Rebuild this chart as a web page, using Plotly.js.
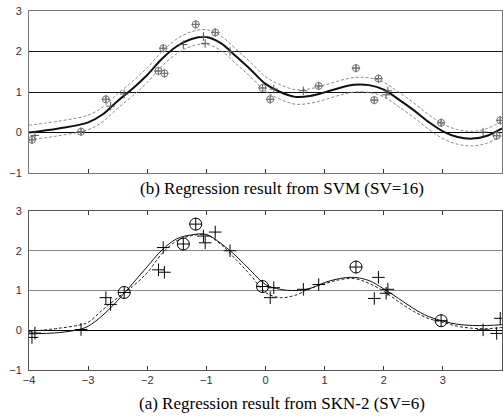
<!DOCTYPE html>
<html>
<head>
<meta charset="utf-8">
<script src="https://cdn.plot.ly/plotly-3.0.1.min.js"></script>
<style>html,body{margin:0;padding:0;background:#fff}#chart{width:503px;height:417px}</style>
</head>
<body>
<div id="chart"></div>
<script>
// training samples (shared by both panels)
const dataX = [-3.95,-3.9,-3.12,-2.7,-2.62,-2.39,-1.73,-1.81,-1.71,-1.39,-1.18,-1.05,-1.02,-0.85,-0.6,-0.05,0.14,0.08,0.64,0.9,1.53,1.91,1.84,2.04,2.07,2.97,3.68,3.91,3.97];
const dataY = [-0.18,-0.07,0.02,0.82,0.65,0.95,2.08,1.52,1.46,2.17,2.67,2.37,2.2,2.47,2.0,1.1,1.07,0.82,1.03,1.15,1.59,1.33,0.8,0.93,1.03,0.24,0.01,-0.08,0.3];
// support vectors (indices into the samples)
const svmSV = [0,2,3,6,7,8,10,13,15,17,19,20,21,22,25,27,28];
const sknSV = [5,9,10,15,20,25];

// (b) SVM regression curve and epsilon tube
const svmX = [-4,-3.5,-3,-2.75,-2.5,-2.25,-2,-1.75,-1.5,-1.25,-1,-0.75,-0.5,-0.25,0,0.25,0.5,0.75,1,1.25,1.5,1.75,2,2.25,2.5,2.75,3,3.25,3.5,3.75,4];
const svmY = [0.0,0.1,0.25,0.45,0.78,1.08,1.42,1.82,2.13,2.31,2.36,2.2,1.88,1.55,1.2,1.0,0.88,0.9,0.99,1.1,1.18,1.17,1.06,0.82,0.56,0.27,0.03,-0.11,-0.15,-0.08,0.1];
const svmUpper = [0.18,0.28,0.43,0.63,0.96,1.26,1.6,2.0,2.31,2.49,2.54,2.38,2.06,1.73,1.38,1.18,1.06,1.08,1.17,1.28,1.36,1.35,1.24,1.0,0.74,0.45,0.21,0.07,0.03,0.1,0.28];
const svmLower = [-0.18,-0.08,0.07,0.27,0.6,0.9,1.24,1.64,1.95,2.13,2.18,2.02,1.7,1.37,1.02,0.82,0.7,0.72,0.81,0.92,1.0,0.99,0.88,0.64,0.38,0.09,-0.15,-0.29,-0.33,-0.26,-0.08];

// (a) SKN-2 regression (solid) and reference (dashed)
const sknX = [-4,-3.5,-3.15,-3,-2.75,-2.5,-2.25,-2,-1.75,-1.5,-1.25,-1,-0.75,-0.5,-0.25,0,0.25,0.5,0.75,1,1.25,1.5,1.75,2,2.25,2.5,2.75,3,3.25,3.5,3.75,4];
const sknY = [-0.09,-0.06,0.02,0.1,0.38,0.75,1.17,1.6,2.02,2.3,2.4,2.41,2.18,1.87,1.5,1.15,1.03,1.0,1.05,1.2,1.3,1.33,1.25,1.04,0.8,0.55,0.35,0.23,0.15,0.12,0.12,0.14];
const refY = [-0.03,0.05,0.13,0.2,0.52,0.82,1.1,1.45,1.93,2.25,2.38,2.4,2.15,1.78,1.38,0.95,0.82,0.88,1.05,1.17,1.27,1.3,1.18,0.98,0.72,0.48,0.3,0.2,0.1,0.05,0.04,0.07];

const yTicks = [-1,0,1,2,3];
const xTicks = [-4,-3,-2,-1,0,1,2,3,4];
const captionTop = '(b) Regression result from SVM (SV=16)';
const captionBottom = '(a) Regression result from SKN-2 (SV=6)';

const pick = (arr, idx) => idx.map(i => arr[i]);

const traces = [
  {x: svmX, y: svmUpper, mode:'lines', line:{color:'#8a8a8a', width:1, dash:'3px,2px', shape:'spline'}, xaxis:'x', yaxis:'y'},
  {x: svmX, y: svmLower, mode:'lines', line:{color:'#8a8a8a', width:1, dash:'3px,2px', shape:'spline'}, xaxis:'x', yaxis:'y'},
  {x: svmX, y: svmY, mode:'lines', line:{color:'#111', width:2, shape:'spline'}, xaxis:'x', yaxis:'y'},
  {x: dataX, y: dataY, mode:'markers', marker:{symbol:'cross-thin-open', size:6, color:'#555', line:{color:'#555', width:1}}, xaxis:'x', yaxis:'y'},
  {x: pick(dataX, svmSV), y: pick(dataY, svmSV), mode:'markers', marker:{symbol:'circle-cross-open', size:7, color:'#777', line:{color:'#777', width:1}}, xaxis:'x', yaxis:'y'},

  {x: sknX, y: refY, mode:'lines', line:{color:'#222', width:1, dash:'3px,2px', shape:'spline'}, xaxis:'x2', yaxis:'y2'},
  {x: sknX, y: sknY, mode:'lines', line:{color:'#111', width:1, shape:'spline'}, xaxis:'x2', yaxis:'y2'},
  {x: dataX, y: dataY, mode:'markers', marker:{symbol:'cross-thin-open', size:9, color:'#000', line:{color:'#000', width:1}}, xaxis:'x2', yaxis:'y2'},
  {x: pick(dataX, sknSV), y: pick(dataY, sknSV), mode:'markers', marker:{symbol:'circle-open', size:12, color:'#000', line:{color:'#000', width:1}}, xaxis:'x2', yaxis:'y2'}
];

const tickFont = {family:'Liberation Sans, Arial, sans-serif', size:11, color:'#333'};
const capFont = {family:'Liberation Serif, Times New Roman, serif', size:17, color:'#000'};

const layout = {
  width:503, height:417,
  margin:{l:29, r:1, t:11, b:47},
  paper_bgcolor:'#fff', plot_bgcolor:'#fff',
  showlegend:false,
  xaxis:{domain:[0,1], anchor:'y', range:[-4,4], tickvals:xTicks, showticklabels:false,
         ticks:'inside', ticklen:4, tickcolor:'#333', showgrid:false, zeroline:false,
         showline:true, linecolor:'#777', mirror:true},
  yaxis:{domain:[0.5487,1], anchor:'x', range:[-1,3], tickvals:yTicks, ticks:'', tickfont:tickFont,
         showgrid:true, gridcolor:'#111', gridwidth:1, zeroline:true, zerolinecolor:'#000', zerolinewidth:1,
         showline:true, linecolor:'#777', mirror:true, ticklabelstandoff:4},
  xaxis2:{domain:[0,1], anchor:'y2', range:[-4,4], tickvals:xTicks, tickfont:tickFont,
          ticks:'inside', ticklen:4, tickcolor:'#333', showgrid:false, zeroline:false,
          showline:true, linecolor:'#555', mirror:'ticks'},
  yaxis2:{domain:[0,0.4429], anchor:'x2', range:[-1,3], tickvals:yTicks, ticks:'', tickfont:tickFont,
          showgrid:true, gridcolor:'#888', gridwidth:1, zeroline:true, zerolinecolor:'#000', zerolinewidth:1,
          showline:true, linecolor:'#555', mirror:true, ticklabelstandoff:4},
  annotations:[
    {text:captionTop, xref:'paper', yref:'paper', x:0.535, y:0.505, xanchor:'center', yanchor:'middle', showarrow:false, font:capFont},
    {text:captionBottom, xref:'paper', yref:'paper', x:0.535, y:-0.092, xanchor:'center', yanchor:'middle', showarrow:false, font:capFont}
  ]
};

Plotly.newPlot('chart', traces, layout, {staticPlot:true, displayModeBar:false});
</script>
</body>
</html>
